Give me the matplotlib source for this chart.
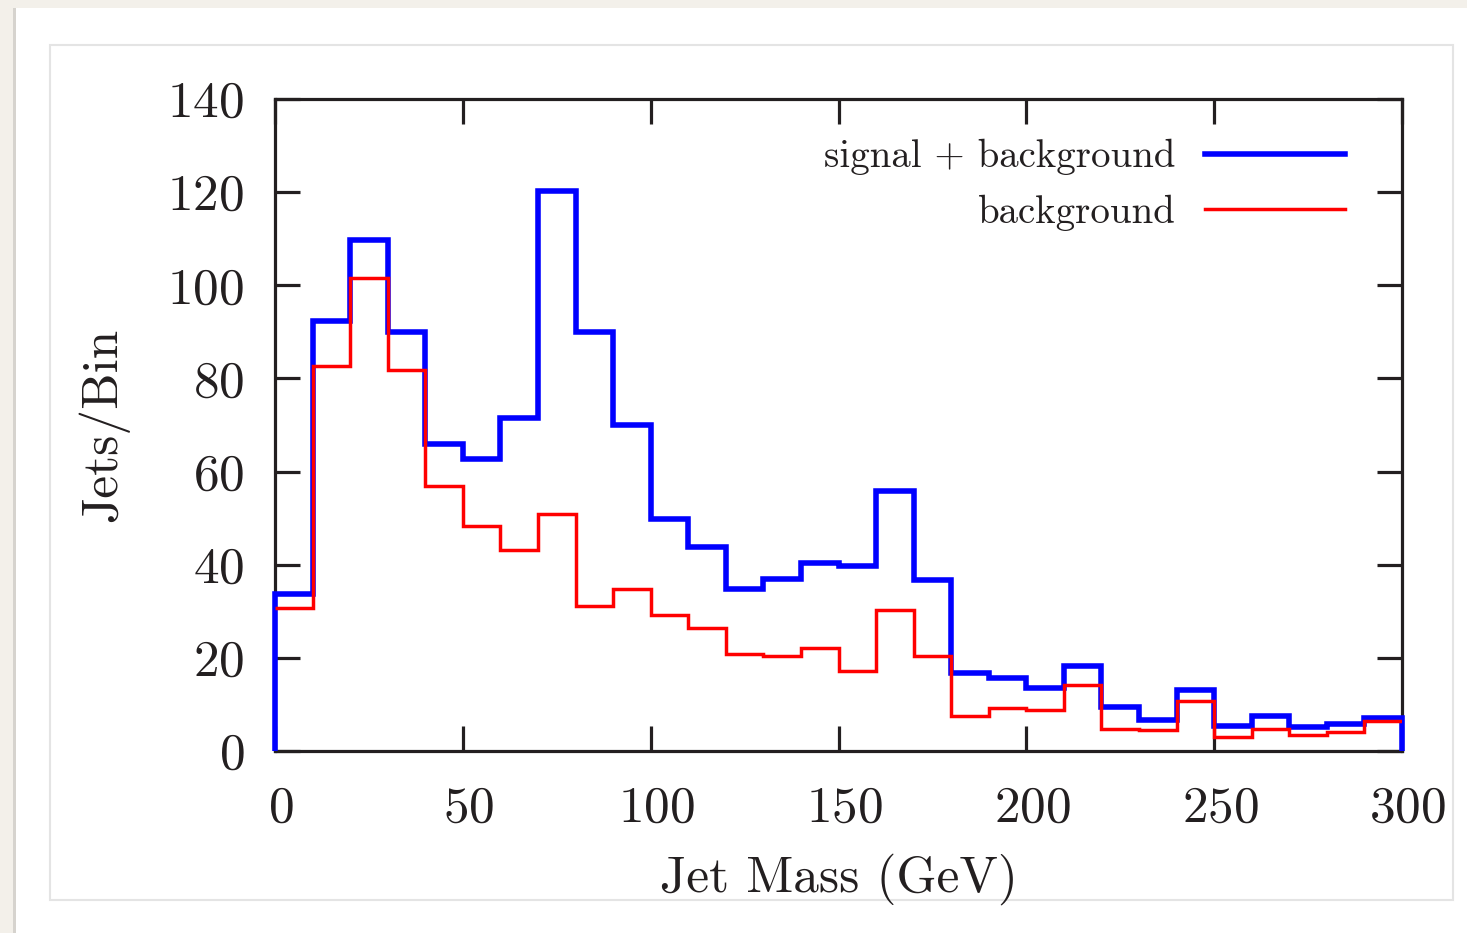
import numpy as np
import matplotlib.pyplot as plt
import matplotlib.transforms as mtransforms
from matplotlib.patches import Rectangle

plt.rcParams['font.family'] = ['cmr10', 'DejaVu Serif']
plt.rcParams['axes.formatter.use_mathtext'] = True
plt.rcParams['mathtext.fontset'] = 'cm'

# histogram, 10 GeV bins
bin_edges = np.arange(0, 310, 10)
sig_bkg = [33.8, 92.3, 109.7, 90.0, 66.0, 62.6, 71.4, 120.3, 90.0, 70.0,
           49.9, 43.9, 34.7, 37.0, 40.3, 39.7, 55.9, 36.7, 16.8, 15.7,
           13.6, 18.3, 9.4, 6.7, 13.0, 5.4, 7.6, 5.2, 5.9, 7.0]
bkg = [30.6, 82.7, 101.6, 81.8, 57.0, 48.4, 43.2, 50.9, 31.2, 34.8,
       29.1, 26.5, 20.8, 20.5, 22.2, 17.2, 30.3, 20.5, 7.6, 9.3,
       8.7, 14.1, 4.8, 4.6, 10.8, 3.1, 4.7, 3.4, 4.0, 6.4]
xticks = [0, 50, 100, 150, 200, 250, 300]
yticks = [0, 20, 40, 60, 80, 100, 120, 140]

W, H = 1467, 933
fig = plt.figure(figsize=(W / 100, H / 100), dpi=100, facecolor='#f3f0ea')

# page / card background
fig.patches.append(Rectangle((13 / W, 0), 4 / W, 925 / H, transform=fig.transFigure,
                             facecolor='#d6d3ce', edgecolor='none', zorder=-3))
fig.patches.append(Rectangle((16 / W, 0), (W - 16) / W, 925 / H, transform=fig.transFigure,
                             facecolor='white', edgecolor='none', zorder=-2))
fig.patches.append(Rectangle((50 / W, 33 / H), 1403 / W, 855 / H, transform=fig.transFigure,
                             facecolor='white', edgecolor='#e4e4e4', lw=1.5, zorder=-1))

ax = fig.add_axes([275 / W, (H - 751) / H, 1127 / W, 652 / H])
ax.set_facecolor('none')

ax.stairs(sig_bkg, bin_edges, baseline=0, color='#0000ff', lw=4.0,
          label='signal + background', zorder=3, clip_on=False)
ax.stairs(bkg, bin_edges, baseline=None, color='#ff0000', lw=2.5,
          label='background', zorder=4)

ax.set_xlim(0, 300)
ax.set_ylim(0, 140)
ax.set_xticks(xticks)
ax.set_yticks(yticks)

axis_col = '#231f20'
for s in ax.spines.values():
    s.set_linewidth(2.3)
    s.set_color(axis_col)
ax.tick_params(direction='in', length=18, width=2.3, color=axis_col,
               top=True, right=True, labelsize=37, labelcolor='#231f20')
ax.tick_params(axis='x', pad=25)
ax.tick_params(axis='y', pad=22)

# x labels sit a little right of their ticks in the original
shift = mtransforms.ScaledTranslation(6 / 100, 0, fig.dpi_scale_trans)
for lab in ax.get_xticklabels():
    lab.set_transform(lab.get_transform() + shift)

ax.set_xlabel('Jet Mass (GeV)', fontsize=37, color='#231f20')
ax.set_ylabel('Jets/Bin', fontsize=37, color='#231f20')
ax.xaxis.set_label_coords(0.5, -0.157)
ax.yaxis.set_label_coords(-0.129, 0.5)

leg = ax.legend(loc='upper right', bbox_to_anchor=(0.9494, 0.939), frameon=False,
                markerfirst=False, fontsize=28, handlelength=3.6,
                handletextpad=0.75, labelspacing=0.5, borderpad=0, borderaxespad=0)
for t in leg.get_texts():
    t.set_color('#231f20')

fig.savefig('out.png', dpi=100, facecolor=fig.get_facecolor())
